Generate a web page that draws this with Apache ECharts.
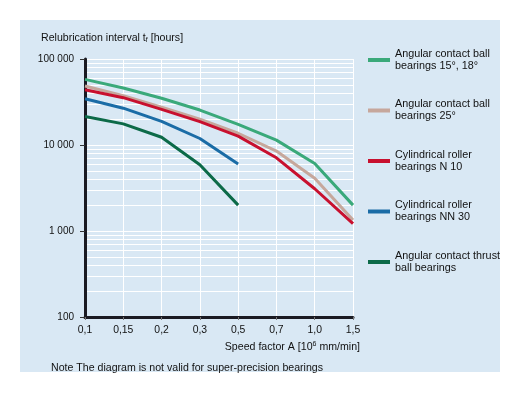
<!DOCTYPE html>
<html>
<head>
<meta charset="utf-8">
<script src="https://cdn.jsdelivr.net/npm/echarts@6/dist/echarts.min.js"></script>
<style>
html,body{margin:0;padding:0;background:#fff;}
#c{width:530px;height:393px;}
</style>
</head>
<body>
<div id="c"></div>
<script>
// ---- data ----
var categories = ['0,1', '0,15', '0,2', '0,3', '0,5', '0,7', '1,0', '1,5'];
var seriesNames = [
  'Angular contact ball\nbearings 15°, 18°',
  'Angular contact ball\nbearings 25°',
  'Cylindrical roller\nbearings N 10',
  'Cylindrical roller\nbearings NN 30',
  'Angular contact thrust\nball bearings'
];
var acb1518 = [58000, 46000, 35000, 25500, 17400, 11400, 6100, 2000];
var acb25 = [48500, 37500, 27500, 20000, 13700, 8500, 4100, 1340];
var crbN10 = [44000, 35500, 26000, 18700, 12700, 7100, 3100, 1220];
var crbNN30 = [34500, 26800, 18800, 11900, 6000, null, null, null];
var acThrust = [21500, 17600, 12300, 5900, 2000, null, null, null];
var seriesColors = ['#3aa97a', '#c6a79c', '#c8102e', '#1a6ca6', '#0c6a48'];
var yMajorTicks = [100, 1000, 10000, 100000];
var yMinorTicks = [];
for (var d = 0; d < yMajorTicks.length - 1; d++) {
  for (var m = 2; m <= 9; m++) yMinorTicks.push(m * yMajorTicks[d]);
}

var fontFam = '"Liberation Sans", Arial, sans-serif';
var chart = echarts.init(document.getElementById('c'), null, {renderer: 'canvas'});
var allData = [acb1518, acb25, crbN10, crbNN30, acThrust];

var series = [{
  name: 'grid-minor',
  type: 'line',
  data: [],
  z: 1,
  silent: true,
  markLine: {
    z: 1,
    silent: true,
    symbol: 'none',
    label: {show: false},
    lineStyle: {color: '#ffffff', width: 1, type: 'solid'},
    animation: false,
    data: yMinorTicks.map(function (v) { return {yAxis: v}; })
  }
}];
allData.forEach(function (arr, i) {
  series.push({
    name: seriesNames[i],
    type: 'line',
    data: arr,
    symbol: 'none',
    zlevel: 1,
    z: 3,
    lineStyle: {color: seriesColors[i], width: 3},
    itemStyle: {color: seriesColors[i]}
  });
});

chart.setOption({
  animation: false,
  backgroundColor: 'transparent',
  textStyle: {fontFamily: fontFam},
  graphic: [{
    type: 'rect',
    z: -10,
    silent: true,
    shape: {x: 20, y: 20, width: 480, height: 352},
    style: {fill: '#d9e8f4'}
  }],
  title: [{
    left: 41, top: 33, padding: 0,
    text: '{a|Relubrication interval t}{s|f}{a| [hours]}',
    textStyle: {
      fontWeight: 'normal',
      rich: {
        a: {fontSize: 10.6, fontWeight: 'normal', color: '#111', fontFamily: fontFam},
        s: {fontSize: 7, fontWeight: 'normal', color: '#111', fontFamily: fontFam, verticalAlign: 'bottom', padding: [4, 0, 0, 0]}
      }
    }
  }, {
    right: 170, top: 341, padding: 0,
    text: '{a|Speed factor A [10}{s|6}{a| mm/min]}',
    textStyle: {
      fontWeight: 'normal',
      rich: {
        a: {fontSize: 10.6, fontWeight: 'normal', color: '#111', fontFamily: fontFam},
        s: {fontSize: 7, fontWeight: 'normal', color: '#111', fontFamily: fontFam, verticalAlign: 'top', padding: [0, 0, 5, 0]}
      }
    }
  }, {
    left: 51, top: 363, padding: 0,
    text: 'Note The diagram is not valid for super-precision bearings',
    textStyle: {fontSize: 10.6, fontWeight: 'normal', color: '#111', fontFamily: fontFam}
  }],
  legend: {
    data: seriesNames,
    orient: 'vertical',
    left: 368,
    top: 48,
    padding: 0,
    itemWidth: 22,
    itemHeight: 4,
    itemGap: 26.5,
    icon: 'rect',
    textStyle: {fontSize: 10.8, lineHeight: 12, color: '#111', fontFamily: fontFam}
  },
  grid: {left: 85, right: 177, top: 59, bottom: 76, containLabel: false},
  xAxis: {
    type: 'category',
    data: categories,
    boundaryGap: false,
    z: 2,
    axisLine: {show: true, onZero: false, lineStyle: {color: '#1a1a22', width: 3}},
    axisTick: {show: true, length: 3, lineStyle: {color: '#777', width: 1}},
    axisLabel: {fontSize: 10.4, color: '#111', margin: 8, fontFamily: fontFam},
    splitLine: {show: true, lineStyle: {color: '#ffffff', width: 1}}
  },
  yAxis: {
    type: 'log',
    logBase: 10,
    min: 100,
    max: 100000,
    z: 2,
    axisLine: {show: true, lineStyle: {color: '#1a1a22', width: 3}},
    axisTick: {show: true, length: 5, lineStyle: {color: '#333', width: 1}},
    axisLabel: {
      fontSize: 10, color: '#111', margin: 11, fontFamily: fontFam,
      formatter: function (v) {
        return String(Math.round(v)).replace(/\B(?=(\d{3})+(?!\d))/g, ' ');
      }
    },
    splitLine: {show: true, lineStyle: {color: '#ffffff', width: 1}},
    minorTick: {show: false},
    minorSplitLine: {show: false}
  },
  series: series
});
</script>
</body>
</html>
